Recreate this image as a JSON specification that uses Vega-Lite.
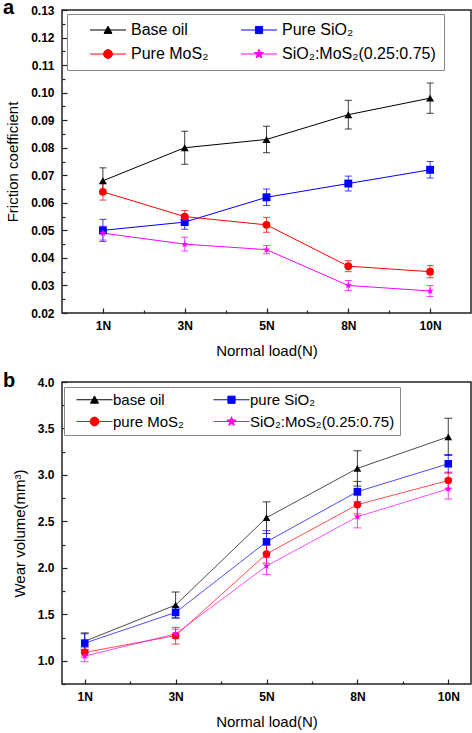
{
  "$schema": "https://vega.github.io/schema/vega-lite/v6.json",
  "background": "white",
  "padding": {"left": 2, "top": -3, "right": 0, "bottom": 0},
  "spacing": 11,
  "config": {
    "view": {"stroke": "#222222", "strokeWidth": 1.5},
    "axis": {"labelFont": "Liberation Sans", "labelFontWeight": "bold", "labelFontSize": 12, "labelColor": "#000000", "titleFont": "Liberation Sans", "titleFontWeight": "normal", "titleFontSize": 15, "titleColor": "#000000", "grid": false, "domain": false, "tickColor": "#222222", "tickWidth": 1.2, "labelOverlap": false, "labelFlush": false},
    "legend": {"labelFont": "Liberation Sans", "labelColor": "#000000", "strokeColor": "#888888", "fillColor": "#ffffff", "symbolStrokeWidth": 1, "symbolSize": 64, "symbolOpacity": 1},
    "title": {"font": "Liberation Sans", "fontSize": 20, "fontWeight": "bold", "color": "#000000"}
  },
  "vconcat": [
    {
      "width": 409,
      "height": 303,
      "title": {"text": "a", "anchor": "start", "frame": "group", "dx": -59, "dy": 18},
      "data": {"values": [
        {"s": "Base oil", "idx": 1, "load": "1N", "v": 0.068, "e": 0.0047},
        {"s": "Base oil", "idx": 2, "load": "3N", "v": 0.080, "e": 0.006},
        {"s": "Base oil", "idx": 3, "load": "5N", "v": 0.083, "e": 0.0048},
        {"s": "Base oil", "idx": 4, "load": "8N", "v": 0.092, "e": 0.0052},
        {"s": "Base oil", "idx": 5, "load": "10N", "v": 0.098, "e": 0.0055},
        {"s": "Pure SiO₂", "idx": 1, "load": "1N", "v": 0.050, "e": 0.004},
        {"s": "Pure SiO₂", "idx": 2, "load": "3N", "v": 0.053, "e": 0.0026},
        {"s": "Pure SiO₂", "idx": 3, "load": "5N", "v": 0.062, "e": 0.003},
        {"s": "Pure SiO₂", "idx": 4, "load": "8N", "v": 0.067, "e": 0.0027},
        {"s": "Pure SiO₂", "idx": 5, "load": "10N", "v": 0.072, "e": 0.003},
        {"s": "Pure MoS₂", "idx": 1, "load": "1N", "v": 0.064, "e": 0.003},
        {"s": "Pure MoS₂", "idx": 2, "load": "3N", "v": 0.055, "e": 0.0022},
        {"s": "Pure MoS₂", "idx": 3, "load": "5N", "v": 0.052, "e": 0.0027},
        {"s": "Pure MoS₂", "idx": 4, "load": "8N", "v": 0.037, "e": 0.002},
        {"s": "Pure MoS₂", "idx": 5, "load": "10N", "v": 0.035, "e": 0.0022},
        {"s": "SiO₂:MoS₂(0.25:0.75)", "idx": 1, "load": "1N", "v": 0.049, "e": 0.0025},
        {"s": "SiO₂:MoS₂(0.25:0.75)", "idx": 2, "load": "3N", "v": 0.045, "e": 0.0025},
        {"s": "SiO₂:MoS₂(0.25:0.75)", "idx": 3, "load": "5N", "v": 0.043, "e": 0.0015},
        {"s": "SiO₂:MoS₂(0.25:0.75)", "idx": 4, "load": "8N", "v": 0.030, "e": 0.0018},
        {"s": "SiO₂:MoS₂(0.25:0.75)", "idx": 5, "load": "10N", "v": 0.028, "e": 0.002}
      ]},
      "encoding": {
        "x": {"field": "idx", "type": "quantitative", "scale": {"domain": [0.5, 5.5], "nice": false, "zero": false},
          "axis": {"title": "Normal load(N)", "values": [1, 1.5, 2, 2.5, 3, 3.5, 4, 4.5, 5],
            "labelExpr": "datum.value % 1 == 0 ? ['1N','3N','5N','8N','10N'][datum.value - 1] : ''",
            "tickSize": {"condition": {"test": "datum.value % 1 != 0", "value": -3}, "value": -5},
            "labelPadding": 12, "titlePadding": 10}},
        "y": {"field": "v", "type": "quantitative", "scale": {"domain": [0.02, 0.13], "nice": false, "zero": false},
          "axis": {"title": "Friction coefficient",
            "values": [0.02, 0.025, 0.03, 0.035, 0.04, 0.045, 0.05, 0.055, 0.06, 0.065, 0.07, 0.075, 0.08, 0.085, 0.09, 0.095, 0.1, 0.105, 0.11, 0.115, 0.12, 0.125, 0.13],
            "labelExpr": "round(datum.value * 1000) % 10 == 0 ? format(datum.value, '.2f') : ''",
            "tickSize": {"condition": {"test": "round(datum.value * 1000) % 10 != 0", "value": -3}, "value": -5},
            "labelPadding": 13, "titlePadding": 10}},
        "color": {"field": "s", "type": "nominal",
          "scale": {"domain": ["Base oil", "Pure SiO₂", "Pure MoS₂", "SiO₂:MoS₂(0.25:0.75)"], "range": ["#000000", "#0000ff", "#ff0000", "#ff00ff"]},
          "legend": null}
      },
      "resolve": {"scale": {"color": "independent", "shape": "independent", "stroke": "independent"}},
      "layer": [
        {"mark": {"type": "errorbar", "ticks": {"size": 7}, "thickness": 1, "opacity": 0.75},
         "encoding": {"yError": {"field": "e"}}},
        {"mark": {"type": "line", "strokeWidth": 1}, "encoding": {}},
        {"mark": {"type": "point", "filled": true, "opacity": 1},
         "encoding": {"shape": {"field": "s", "type": "nominal",
           "scale": {"domain": ["Base oil", "Pure SiO₂", "Pure MoS₂", "SiO₂:MoS₂(0.25:0.75)"],
             "range": ["triangle-up", "square", "circle", "M0,-1L0.235,-0.324L0.951,-0.309L0.38,0.124L0.588,0.809L0,0.4L-0.588,0.809L-0.38,0.124L-0.951,-0.309L-0.235,-0.324Z"]},
           "legend": null},
           "size": {"field": "s", "type": "nominal", "scale": {"domain": ["Base oil", "Pure SiO₂", "Pure MoS₂", "SiO₂:MoS₂(0.25:0.75)"], "range": [64, 56, 72, 110]}, "legend": null}}},
        {"mark": {"type": "point", "filled": true, "opacity": 0},
         "encoding": {
           "color": {"field": "s", "type": "nominal",
             "scale": {"domain": ["Base oil", "Pure SiO₂", "Pure MoS₂", "SiO₂:MoS₂(0.25:0.75)"], "range": ["#000000", "#0000ff", "#ff0000", "#ff00ff"]},
             "legend": {"title": null, "values": ["Base oil", "Pure MoS₂", "Pure SiO₂", "SiO₂:MoS₂(0.25:0.75)"], "orient": "none", "legendX": 5, "legendY": 4, "columns": 2, "padding": 8, "rowPadding": 8, "columnPadding": 17, "labelFontSize": 16, "symbolOffset": 25, "labelOffset": 15, "symbolSize": 64, "symbolOpacity": 1}},
           "stroke": {"field": "s", "type": "nominal",
             "scale": {"domain": ["Base oil", "Pure SiO₂", "Pure MoS₂", "SiO₂:MoS₂(0.25:0.75)"], "range": ["#000000", "#0000ff", "#ff0000", "#ff00ff"]},
             "legend": {"title": null, "values": ["Base oil", "Pure MoS₂", "Pure SiO₂", "SiO₂:MoS₂(0.25:0.75)"], "orient": "none", "legendX": 5, "legendY": 4, "columns": 2, "padding": 8, "rowPadding": 8, "columnPadding": 17, "labelFontSize": 16, "symbolOffset": 25, "labelOffset": 15, "symbolSize": 64, "symbolOpacity": 1}},
           "shape": {"field": "s", "type": "nominal",
             "scale": {"domain": ["Base oil", "Pure SiO₂", "Pure MoS₂", "SiO₂:MoS₂(0.25:0.75)"],
               "range": [
                 "M-4.5,0H4.5M-1,0.85L0,-0.95L1,0.85Z",
                 "M-4.5,0H4.5M-0.9,-0.9H0.9V0.9H-0.9Z",
                 "M-4.5,0H4.5M-1.1,0A1.1,1.1,0,1,0,1.1,0A1.1,1.1,0,1,0,-1.1,0Z",
                 "M-4.5,0H4.5M0,-1.2L0.282,-0.389L1.141,-0.371L0.456,0.149L0.706,0.971L0,0.48L-0.706,0.971L-0.456,0.149L-1.141,-0.371L-0.282,-0.389Z"]},
             "legend": {"title": null, "values": ["Base oil", "Pure MoS₂", "Pure SiO₂", "SiO₂:MoS₂(0.25:0.75)"], "orient": "none", "legendX": 5, "legendY": 4, "columns": 2, "padding": 8, "rowPadding": 8, "columnPadding": 17, "labelFontSize": 16, "symbolOffset": 25, "labelOffset": 15, "symbolSize": 64, "symbolOpacity": 1}}
         }}
      ]
    },
    {
      "width": 409,
      "height": 302,
      "title": {"text": "b", "anchor": "start", "frame": "group", "dx": -59, "dy": 19},
      "data": {"values": [
        {"s": "base oil", "idx": 1, "load": "1N", "v": 1.21, "e": 0.09},
        {"s": "base oil", "idx": 2, "load": "3N", "v": 1.60, "e": 0.14},
        {"s": "base oil", "idx": 3, "load": "5N", "v": 2.54, "e": 0.17},
        {"s": "base oil", "idx": 4, "load": "8N", "v": 3.07, "e": 0.19},
        {"s": "base oil", "idx": 5, "load": "10N", "v": 3.41, "e": 0.2},
        {"s": "pure SiO₂", "idx": 1, "load": "1N", "v": 1.19, "e": 0.1},
        {"s": "pure SiO₂", "idx": 2, "load": "3N", "v": 1.52, "e": 0.06},
        {"s": "pure SiO₂", "idx": 3, "load": "5N", "v": 2.28, "e": 0.12},
        {"s": "pure SiO₂", "idx": 4, "load": "8N", "v": 2.82, "e": 0.11},
        {"s": "pure SiO₂", "idx": 5, "load": "10N", "v": 3.12, "e": 0.1},
        {"s": "pure MoS₂", "idx": 1, "load": "1N", "v": 1.09, "e": 0.05},
        {"s": "pure MoS₂", "idx": 2, "load": "3N", "v": 1.27, "e": 0.09},
        {"s": "pure MoS₂", "idx": 3, "load": "5N", "v": 2.15, "e": 0.1},
        {"s": "pure MoS₂", "idx": 4, "load": "8N", "v": 2.68, "e": 0.1},
        {"s": "pure MoS₂", "idx": 5, "load": "10N", "v": 2.94, "e": 0.09},
        {"s": "SiO₂:MoS₂(0.25:0.75)", "idx": 1, "load": "1N", "v": 1.05, "e": 0.06},
        {"s": "SiO₂:MoS₂(0.25:0.75)", "idx": 2, "load": "3N", "v": 1.29, "e": 0.05},
        {"s": "SiO₂:MoS₂(0.25:0.75)", "idx": 3, "load": "5N", "v": 2.02, "e": 0.09},
        {"s": "SiO₂:MoS₂(0.25:0.75)", "idx": 4, "load": "8N", "v": 2.55, "e": 0.12},
        {"s": "SiO₂:MoS₂(0.25:0.75)", "idx": 5, "load": "10N", "v": 2.85, "e": 0.11}
      ]},
      "encoding": {
        "x": {"field": "idx", "type": "quantitative", "scale": {"domain": [0.75, 5.25], "nice": false, "zero": false},
          "axis": {"title": "Normal load(N)", "values": [1, 1.5, 2, 2.5, 3, 3.5, 4, 4.5, 5],
            "labelExpr": "datum.value % 1 == 0 ? ['1N','3N','5N','8N','10N'][datum.value - 1] : ''",
            "tickSize": {"condition": {"test": "datum.value % 1 != 0", "value": -3}, "value": -5},
            "labelPadding": 12, "titlePadding": 10}},
        "y": {"field": "v", "type": "quantitative", "scale": {"domain": [0.75, 4.0], "nice": false, "zero": false},
          "axis": {"title": "Wear volume(mm³)",
            "values": [0.75, 1, 1.25, 1.5, 1.75, 2, 2.25, 2.5, 2.75, 3, 3.25, 3.5, 3.75, 4],
            "labelExpr": "round(datum.value * 100) % 50 == 0 ? format(datum.value, '.1f') : ''",
            "tickSize": {"condition": {"test": "round(datum.value * 100) % 50 != 0", "value": -3}, "value": -5},
            "labelPadding": 13, "titlePadding": 10}},
        "color": {"field": "s", "type": "nominal",
          "scale": {"domain": ["base oil", "pure SiO₂", "pure MoS₂", "SiO₂:MoS₂(0.25:0.75)"], "range": ["#000000", "#0000ff", "#ff0000", "#ff00ff"]},
          "legend": null}
      },
      "resolve": {"scale": {"color": "independent", "shape": "independent", "stroke": "independent"}},
      "layer": [
        {"mark": {"type": "errorbar", "ticks": {"size": 8}, "thickness": 1, "opacity": 0.75},
         "encoding": {"yError": {"field": "e"}}},
        {"mark": {"type": "line", "strokeWidth": 1, "opacity": 0.7}, "encoding": {}},
        {"mark": {"type": "point", "filled": true, "opacity": 1},
         "encoding": {"shape": {"field": "s", "type": "nominal",
           "scale": {"domain": ["base oil", "pure SiO₂", "pure MoS₂", "SiO₂:MoS₂(0.25:0.75)"],
             "range": ["triangle-up", "square", "circle", "M0,-1L0.235,-0.324L0.951,-0.309L0.38,0.124L0.588,0.809L0,0.4L-0.588,0.809L-0.38,0.124L-0.951,-0.309L-0.235,-0.324Z"]},
           "legend": null},
           "size": {"field": "s", "type": "nominal", "scale": {"domain": ["base oil", "pure SiO₂", "pure MoS₂", "SiO₂:MoS₂(0.25:0.75)"], "range": [64, 56, 72, 100]}, "legend": null}}},
        {"mark": {"type": "point", "filled": true, "opacity": 0},
         "encoding": {
           "color": {"field": "s", "type": "nominal",
             "scale": {"domain": ["base oil", "pure SiO₂", "pure MoS₂", "SiO₂:MoS₂(0.25:0.75)"], "range": ["#000000", "#0000ff", "#ff0000", "#ff00ff"]},
             "legend": {"title": null, "values": ["base oil", "pure MoS₂", "pure SiO₂", "SiO₂:MoS₂(0.25:0.75)"], "orient": "none", "legendX": 2, "legendY": 5, "columns": 2, "padding": 5, "rowPadding": 6, "columnPadding": 22, "labelFontSize": 15, "symbolOffset": 18, "labelOffset": 11, "symbolSize": 64, "symbolOpacity": 1}},
           "stroke": {"field": "s", "type": "nominal",
             "scale": {"domain": ["base oil", "pure SiO₂", "pure MoS₂", "SiO₂:MoS₂(0.25:0.75)"], "range": ["#000000", "#0000ff", "#ff0000", "#ff00ff"]},
             "legend": {"title": null, "values": ["base oil", "pure MoS₂", "pure SiO₂", "SiO₂:MoS₂(0.25:0.75)"], "orient": "none", "legendX": 2, "legendY": 5, "columns": 2, "padding": 5, "rowPadding": 6, "columnPadding": 22, "labelFontSize": 15, "symbolOffset": 18, "labelOffset": 11, "symbolSize": 64, "symbolOpacity": 1}},
           "shape": {"field": "s", "type": "nominal",
             "scale": {"domain": ["base oil", "pure SiO₂", "pure MoS₂", "SiO₂:MoS₂(0.25:0.75)"],
               "range": [
                 "M-4.5,0H4.5M-1,0.85L0,-0.95L1,0.85Z",
                 "M-4.5,0H4.5M-0.9,-0.9H0.9V0.9H-0.9Z",
                 "M-4.5,0H4.5M-1.1,0A1.1,1.1,0,1,0,1.1,0A1.1,1.1,0,1,0,-1.1,0Z",
                 "M-4.5,0H4.5M0,-1.2L0.282,-0.389L1.141,-0.371L0.456,0.149L0.706,0.971L0,0.48L-0.706,0.971L-0.456,0.149L-1.141,-0.371L-0.282,-0.389Z"]},
             "legend": {"title": null, "values": ["base oil", "pure MoS₂", "pure SiO₂", "SiO₂:MoS₂(0.25:0.75)"], "orient": "none", "legendX": 2, "legendY": 5, "columns": 2, "padding": 5, "rowPadding": 6, "columnPadding": 22, "labelFontSize": 15, "symbolOffset": 18, "labelOffset": 11, "symbolSize": 64, "symbolOpacity": 1}}
         }}
      ]
    }
  ]
}
